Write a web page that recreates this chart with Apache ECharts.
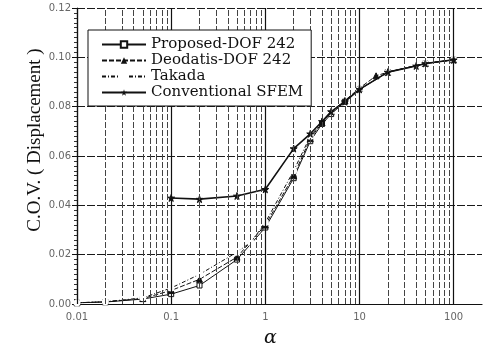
<!DOCTYPE html>
<html><head><meta charset="utf-8">
<script src="https://cdn.jsdelivr.net/npm/echarts@6/dist/echarts.min.js"></script>
<style>html,body{margin:0;padding:0;background:#fff}#c{width:485px;height:351px}</style>
</head><body><div id="c"></div>
<script>
// ---- data ----
const seriesNames = ['Proposed-DOF 242', 'Deodatis-DOF 242', 'Takada', 'Conventional SFEM'];
const proposedAlpha = [0.01, 0.02, 0.05, 0.1, 0.2, 0.5, 1, 2, 3, 4, 5, 7, 10, 20, 50, 100];
const proposedCov   = [0.0005, 0.0008, 0.0020, 0.0040, 0.0075, 0.0180, 0.0310, 0.0510, 0.0660, 0.0730, 0.0770, 0.0820, 0.0870, 0.0940, 0.0975, 0.0990];
const deodatisAlpha = [0.01, 0.02, 0.05, 0.1, 0.2, 0.5, 1, 2, 3, 4, 5, 7, 10, 15, 20, 50, 100];
const deodatisCov   = [0.0005, 0.0009, 0.0022, 0.0055, 0.0100, 0.0190, 0.0320, 0.0520, 0.0670, 0.0735, 0.0780, 0.0825, 0.0875, 0.0925, 0.0940, 0.0975, 0.0990];
const takadaAlpha   = [0.01, 0.02, 0.05, 0.1, 0.2, 0.5, 0.7, 1, 2, 3, 5, 10, 20, 50, 100];
const takadaCov     = [0.0005, 0.0009, 0.0025, 0.0065, 0.0120, 0.0210, 0.0250, 0.0330, 0.0540, 0.0680, 0.0780, 0.0870, 0.0940, 0.0975, 0.0990];
const sfemAlpha     = [0.1, 0.2, 0.5, 1, 2, 3, 4, 5, 7, 10, 20, 40, 50, 100];
const sfemCov       = [0.0430, 0.0425, 0.0438, 0.0465, 0.0630, 0.0690, 0.0740, 0.0780, 0.0820, 0.0870, 0.0940, 0.0965, 0.0975, 0.0990];
const xTickLabels = ['0.01', '0.1', '1', '10', '100'];
const yTickLabels = ['0.00', '0.02', '0.04', '0.06', '0.08', '0.10', '0.12'];
const gridDecades = [0.01, 0.1, 1, 10];
const gridMultipliers = [1, 2, 3, 4, 5, 6, 7, 8, 9];

const zip = (a, b) => a.map((x, i) => [x, b[i]]);
const vLines = [];
gridDecades.forEach(d => gridMultipliers.forEach(m => {
  vLines.push({ xAxis: d * m, lineStyle: m === 1 ? { color: '#111', width: 1.2, type: 'solid' } : { color: '#444', width: 1, type: [6, 2] } });
}));
vLines.push({ xAxis: 100, lineStyle: { color: '#111', width: 1.2, type: 'solid' } });

const star = 'path://M50,0 L61,35 L98,35 L68,57 L79,91 L50,70 L21,91 L32,57 L2,35 L39,35 Z';
const chart = echarts.init(document.getElementById('c'), null, { renderer: 'canvas' });
chart.setOption({
  animation: false,
  backgroundColor: '#fff',
  grid: { left: 77, right: 0, top: 8, bottom: 47 },
  title: { text: 'α', left: 259, top: 324, textStyle: { fontFamily: 'DejaVu Serif', fontStyle: 'italic', fontWeight: 'normal', fontSize: 19, color: '#111' } },
  legend: {
    data: seriesNames, orient: 'vertical', left: 88, top: 30, z: 100, zlevel: 1,
    backgroundColor: '#fff', borderColor: '#111', borderWidth: 1,
    padding: [7, 8, 6, 13], itemGap: 1, itemWidth: 44, itemHeight: 8,
    textStyle: { fontFamily: 'DejaVu Serif', fontSize: 15, color: '#111' }
  },
  xAxis: {
    type: 'log', logBase: 10, min: 0.01, max: 200,
    axisLine: { lineStyle: { color: '#111', width: 1.2 } },
    axisTick: { show: false },
    splitLine: { show: false },
    axisLabel: {
      color: '#666', fontFamily: 'DejaVu Sans', fontSize: 10, margin: 8,
      formatter: v => {
        const l = Math.log10(v); const r = Math.round(l);
        if (Math.abs(l - r) > 1e-6 || r < -2 || r > 2) return '';
        return xTickLabels[r + 2];
      }
    }
  },
  yAxis: {
    type: 'value', min: 0, max: 0.12, interval: 0.02,
    name: 'C.O.V. ( Displacement )', nameLocation: 'middle', nameGap: 32, nameMoveOverlap: false,
    nameTextStyle: { fontFamily: 'Liberation Serif', fontSize: 19, color: '#111', padding: [0, 0, 0, 32] },
    axisLine: { show: true, lineStyle: { color: '#111', width: 1.2 } },
    axisTick: { show: true, length: 5, inside: false, lineStyle: { color: '#111' } },
    minorTick: { show: true, splitNumber: 10, length: 3, lineStyle: { color: '#333' } },
    splitLine: { show: true, lineStyle: { color: '#1a1a1a', width: 1.2, type: [8, 2] } },
    axisLabel: { color: '#666', fontFamily: 'DejaVu Sans', fontSize: 10, margin: 6,
      formatter: (v) => yTickLabels[Math.round(v / 0.02)] }
  },
  series: [
    { name: 'grid', type: 'line', data: [], z: 1, silent: true,
      markLine: { silent: true, symbol: 'none', label: { show: false }, data: vLines } },
    { name: seriesNames[0], type: 'line', data: zip(proposedAlpha, proposedCov), z: 3,
      symbol: 'rect', symbolSize: 5, itemStyle: { color: '#fff', borderColor: '#111', borderWidth: 1 },
      lineStyle: { color: '#111', width: 1 } },
    { name: seriesNames[1], type: 'line', data: zip(deodatisAlpha, deodatisCov), z: 3,
      symbol: 'triangle', symbolSize: 6, itemStyle: { color: '#111', borderColor: '#111' },
      lineStyle: { color: '#111', width: 1, type: [5, 2] } },
    { name: seriesNames[2], type: 'line', data: zip(takadaAlpha, takadaCov), z: 3,
      symbol: 'emptyCircle', symbolSize: 5, itemStyle: { color: '#fff', borderColor: '#111', borderWidth: 1 },
      lineStyle: { color: '#111', width: 1, type: [4, 2, 1, 2] } },
    { name: seriesNames[3], type: 'line', data: zip(sfemAlpha, sfemCov), z: 4,
      symbol: star, symbolSize: 7, itemStyle: { color: '#111', borderColor: '#111' },
      lineStyle: { color: '#111', width: 1.6 } }
  ]
});
</script></body></html>
